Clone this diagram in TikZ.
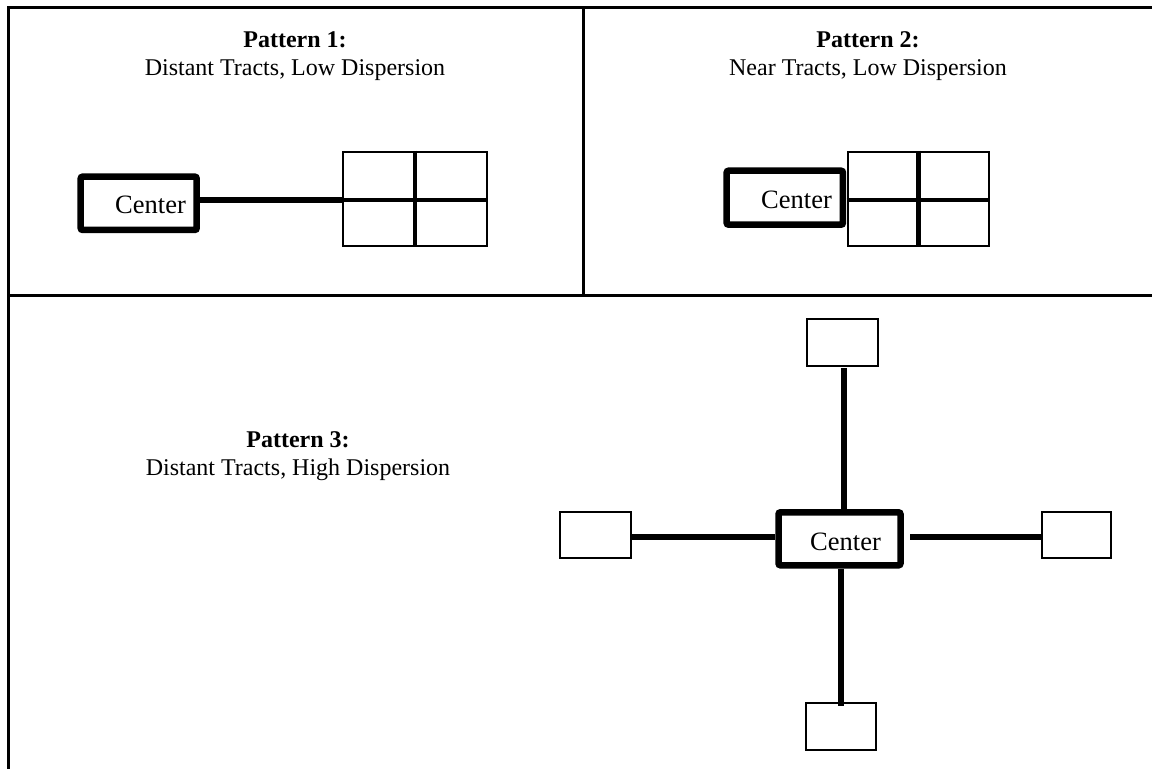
\documentclass[tikz,border=0pt]{standalone}
\usepackage{fontspec}
\setmainfont{Liberation Serif}
\begin{document}
\begin{tikzpicture}[x=1pt,y=-1pt,
  frame/.style={line width=3pt},
  centerbox/.style={draw,line width=6.5pt,rounded corners=2pt,inner sep=0pt},
  tract/.style={draw,line width=2pt,inner sep=0pt},
  link/.style={line width=5.5pt},
  divider/.style={line width=4.5pt},
  lbl/.style={font=\fontsize{24}{27.6}\selectfont,align=center,inner sep=0pt},
  ctext/.style={font=\fontsize{26.5}{30}\selectfont,inner sep=0pt,anchor=base west}]
\useasboundingbox (0,0) rectangle (1152,769);
% frame
\coordinate (tl) at (8,7);
\coordinate (tr) at (1152,7);
\coordinate (bl) at (8,769);
\coordinate (ml) at (8,295);
\coordinate (mr) at (1152,295);
\coordinate (vt) at (583,7);
\coordinate (vb) at (583,295);
\draw[frame] (tr) -- (tl) -- (bl);
\draw[frame] (ml) -- (mr);
\draw[frame] (vt) -- (vb);
% labels
\node[lbl] (l1) at (295,56) {\textbf{Pattern 1:}\\Distant Tracts, Low Dispersion};
\node[lbl] (l2) at (868,56) {\textbf{Pattern 2:}\\Near Tracts, Low Dispersion};
\node[lbl] (l3) at (298,456) {\textbf{Pattern 3:}\\Distant Tracts, High Dispersion};
% pattern 1
\node[centerbox,minimum width=116pt,minimum height=53.3pt] (c1) at (138.7,203.3) {};
\node[ctext] (c1t) at (115,213) {Center};
\node[tract,minimum width=143.4pt,minimum height=94.3pt] (g1) at (415,198.8) {};
\coordinate (g1l) at (g1.west|-0,200);
\coordinate (g1r) at (g1.east|-0,200);
\draw[divider] (g1.north) -- (g1.south);
\draw[divider] (g1l) -- (g1r);
\draw[link] (c1.east|-g1l) -- (g1l);
% pattern 2
\node[centerbox,minimum width=116.3pt,minimum height=54pt] (c2) at (784.8,197.7) {};
\node[ctext] (c2t) at (761,208) {Center};
\node[tract,minimum width=141.6pt,minimum height=94.3pt] (g2) at (918.5,198.8) {};
\coordinate (g2l) at (g2.west|-0,200);
\coordinate (g2r) at (g2.east|-0,200);
\draw[divider] (g2.north) -- (g2.south);
\draw[divider] (g2l) -- (g2r);
% pattern 3
\node[centerbox,minimum width=122pt,minimum height=53pt] (c3) at (839.5,538.8) {};
\node[ctext] (c3t) at (810,550) {Center};
\node[tract,minimum width=71pt,minimum height=46pt] (tw) at (595.5,534.7) {};
\node[tract,minimum width=69pt,minimum height=46pt] (te) at (1076.5,534.7) {};
\node[tract,minimum width=70.7pt,minimum height=46.7pt] (tn) at (842.4,342.7) {};
\node[tract,minimum width=70.3pt,minimum height=46.7pt] (ts) at (840.9,726.7) {};
\coordinate (cw) at (c3.west|-0,537);
\coordinate (ce) at (910,537);
\coordinate (cn) at (844,368);
\coordinate (cs) at (841,706);
\draw[link] (tw.east|-cw) -- (cw);
\draw[link] (ce) -- (te.west|-ce);
\draw[link] (cn) -- (cn|-c3.north);
\draw[link] (c3.south-|cs) -- (cs);
\end{tikzpicture}
\end{document}
